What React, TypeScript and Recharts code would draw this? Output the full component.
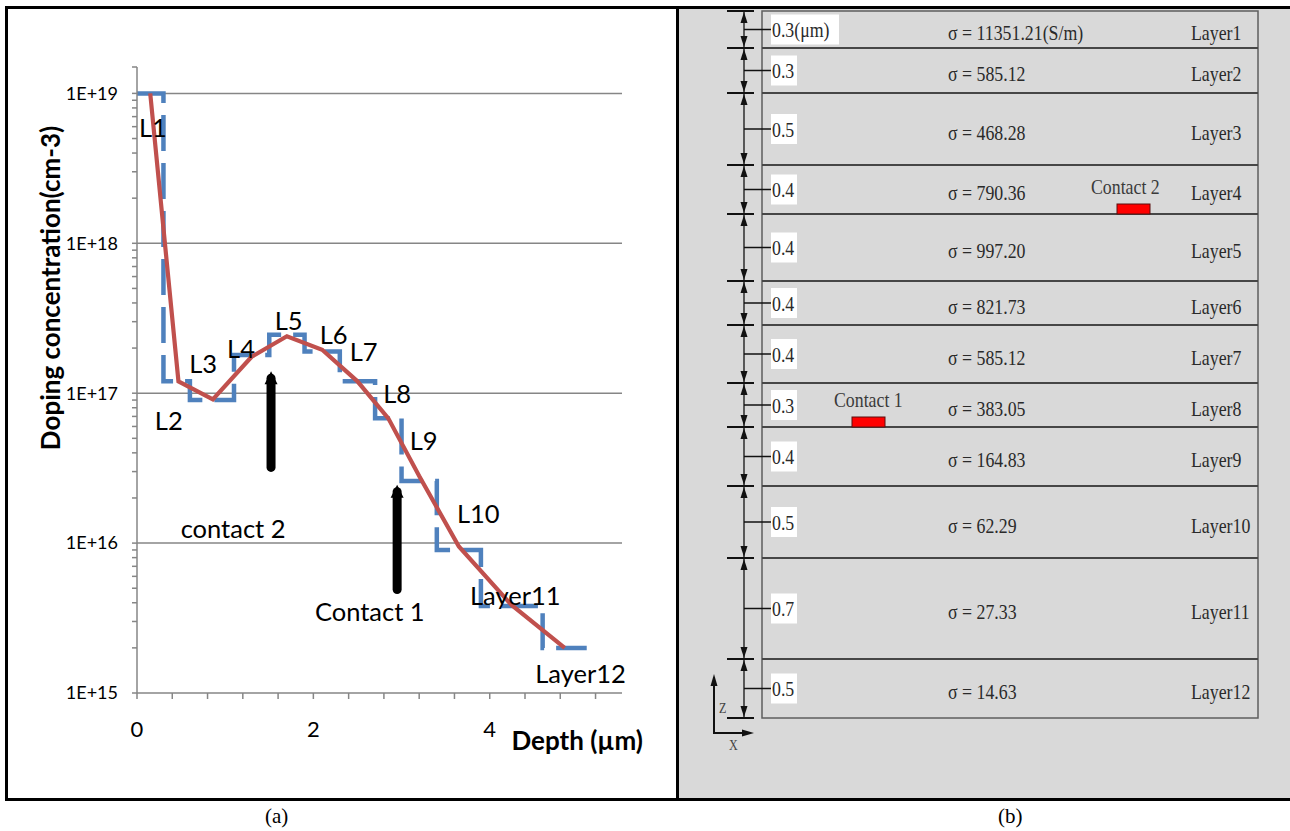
import React from "react";
import { LineChart, Line, XAxis, YAxis, ReferenceLine, ReferenceDot, Label } from "recharts";

// structure layers (panel b) and the stepped doping they stand for (panel a)
const layerNames = ["Layer1", "Layer2", "Layer3", "Layer4", "Layer5", "Layer6", "Layer7", "Layer8", "Layer9", "Layer10", "Layer11", "Layer12"];
const layerThickness = [0.3, 0.3, 0.5, 0.4, 0.4, 0.4, 0.4, 0.3, 0.4, 0.5, 0.7, 0.5];
const layerSigma = ["11351.21", "585.12", "468.28", "790.36", "997.20", "821.73", "585.12", "383.05", "164.83", "62.29", "27.33", "14.63"];
const layerDoping = [1e19, 1.2e17, 9e16, 1.8e17, 2.45e17, 1.9e17, 1.2e17, 6.8e16, 2.6e16, 9e15, 3.8e15, 2e15];

// measured profile (red)
const profileDepth = [0.15, 0.47, 0.86, 1.3, 1.7, 2.1, 2.5, 2.85, 3.2, 3.65, 4.25, 4.85];
const profileDoping = [1e19, 1.2e17, 9.1e16, 1.75e17, 2.4e17, 1.95e17, 1.2e17, 6.8e16, 2.8e16, 9.5e15, 3.85e15, 2e15];

// text on the plot
const noteText = ["L1", "L2", "L3", "L4", "L5", "L6", "L7", "L8", "L9", "L10", "Layer11", "Layer12", "contact 2", "Contact 1"];
const noteDepth = [0.18, 0.36, 0.75, 1.18, 1.72, 2.23, 2.57, 2.95, 3.25, 3.87, 4.29, 5.03, 1.09, 2.64];
const noteDoping = [6e18, 6.6e16, 1.6e17, 2e17, 3.1e17, 2.5e17, 1.9e17, 1e17, 4.9e16, 1.6e16, 4.5e15, 1.36e15, 1.26e16, 3.5e15];

// contact arrows
const contactDepth = [1.52, 2.95];
const contactFrom = [3.2e16, 4.9e15];
const contactTo = [1.26e17, 2.2e16];

// axes
const depthTicks = [0, 0.4, 0.8, 1.2, 1.6, 2, 2.4, 2.8, 3.2, 3.6, 4, 4.4, 4.8, 5.2];
const depthLabels = [0, 2, 4];
const decades = [1e15, 1e16, 1e17, 1e18, 1e19];
const mantissas = [1, 2, 3, 4, 5, 6, 7, 8, 9];

// panel (b) row heights in px, and contacts
const layerRowPx = [37, 45, 72, 49, 67, 44, 58, 44, 59, 72, 101, 59];
const contactNames = ["Contact 1", "Contact 2"];
const contactLayer = [7, 3];

const dopingTicks = [
  ...decades.slice(0, 4).flatMap((d) => mantissas.map((m) => m * d)),
  1e19,
  1.5e19,
];

const stepData: { x: number; y: number }[] = [];
{
  let start = 0;
  layerThickness.forEach((t, i) => {
    stepData.push({ x: start, y: layerDoping[i] });
    start = Math.round((start + t) * 10) / 10;
  });
  stepData.push({ x: start, y: layerDoping[layerDoping.length - 1] });
}
const profileData = profileDepth.map((x, i) => ({ x, y: profileDoping[i] }));

const CHART_FONT = "Lato, 'Noto Sans', sans-serif";
const SERIF = "'Liberation Serif', serif";
const AXIS_GRAY = "#868686";

const ArrowHead = (p: any) => {
  if (p.index !== 1) return <g key={`ah-${p.index}`} />;
  const { cx, cy } = p;
  return <path key={`ah-${p.index}`} d={`M${cx - 6.5},${cy + 6} L${cx},${cy - 7} L${cx + 6.5},${cy + 6} Z`} fill="#000" />;
};

const DepthTitle = (props: any) => {
  const vb = props.viewBox || { x: 137, y: 693, width: 485 };
  return (
    <text x={vb.x + vb.width + 21} y={vb.y + 57} textAnchor="end" fontFamily={CHART_FONT} fontWeight="bold" fontSize={26} fill="#000">
      Depth (µm)
    </text>
  );
};

const DopingTitle = (props: any) => {
  const vb = props.viewBox || { x: 60, y: 67 };
  const cx = vb.x - 10;
  const cy = vb.y + 221;
  return (
    <text x={cx} y={cy} transform={`rotate(-90 ${cx} ${cy})`} textAnchor="middle" dominantBaseline="central" fontFamily={CHART_FONT} fontWeight="bold" fontSize={26} fill="#000">
      Doping concentration(cm-3)
    </text>
  );
};

function DopingChart() {
  return (
    <LineChart width={678} height={800} margin={{ top: 67, right: 56, bottom: 47, left: 60 }}>
      <XAxis
        type="number"
        dataKey="x"
        domain={[0, 5.5]}
        ticks={depthTicks}
        interval={0}
        allowDataOverflow
        tickFormatter={(v) => (depthLabels.includes(Number(v)) ? String(v) : "")}
        stroke={AXIS_GRAY}
        strokeWidth={1.5}
        tickSize={6}
        tickMargin={22}
        height={60}
        tick={{ fill: "#000", fontSize: 22, fontFamily: CHART_FONT }}
      >
        <Label content={DepthTitle} />
      </XAxis>
      <YAxis
        type="number"
        scale="log"
        domain={[1e15, 1.5e19]}
        ticks={dopingTicks}
        interval={0}
        allowDataOverflow
        tickFormatter={(v) => (decades.includes(Number(v)) ? `1E+${Math.round(Math.log10(Number(v)))}` : "")}
        stroke={AXIS_GRAY}
        strokeWidth={1.5}
        tickSize={5}
        tickMargin={14}
        width={77}
        tick={{ fill: "#000", fontSize: 18, fontFamily: CHART_FONT }}
      >
        <Label content={DopingTitle} />
      </YAxis>
      {decades.slice(1).map((d) => (
        <ReferenceLine key={d} y={d} stroke={AXIS_GRAY} strokeWidth={1.5} />
      ))}
      <Line data={stepData} dataKey="y" type="stepAfter" stroke="#4f81bd" strokeWidth={4.5} strokeDasharray="36 12" dot={false} activeDot={false} isAnimationActive={false} />
      <Line data={profileData} dataKey="y" type="linear" stroke="#c0504d" strokeWidth={4.2} dot={false} activeDot={false} isAnimationActive={false} />
      {contactDepth.map((d, i) => (
        <Line
          key={`arrow-${i}`}
          data={[{ x: d, y: contactFrom[i] }, { x: d, y: contactTo[i] }]}
          dataKey="y"
          type="linear"
          stroke="#000"
          strokeWidth={9}
          strokeLinecap="round"
          dot={ArrowHead}
          activeDot={false}
          isAnimationActive={false}
        />
      ))}
      {noteText.map((t, i) => (
        <ReferenceDot
          key={t}
          x={noteDepth[i]}
          y={noteDoping[i]}
          r={0}
          ifOverflow="visible"
          shape={(p: any) => (
            <text x={p.cx} y={p.cy} textAnchor="middle" dominantBaseline="central" fontFamily={CHART_FONT} fontSize={25.5} fill="#000">
              {t}
            </text>
          )}
        />
      ))}
    </LineChart>
  );
}

function SerifText({ x, y, children, size = 22, fill = "#2a2a2a" }: { x: number; y: number; children: React.ReactNode; size?: number; fill?: string }) {
  return (
    <text transform={`translate(${x} ${y}) scale(0.81 1)`} fontFamily={SERIF} fontSize={size} fill={fill} dominantBaseline="central">
      {children}
    </text>
  );
}

function LayerDiagram() {
  const boxL = 762;
  const boxR = 1258;
  const dimX = 744;
  const tops: number[] = [];
  let acc = 11;
  layerRowPx.forEach((h) => {
    tops.push(acc);
    acc += h;
  });
  const bottom = acc;
  const edges = [...tops, bottom];
  const contactX = [852, 1117];
  const contactTextX = [834, 1091];

  return (
    <svg width={1290} height={831} style={{ position: "absolute", left: 0, top: 0 }}>
      <rect x={boxL} y={tops[0]} width={boxR - boxL} height={bottom - tops[0]} fill="none" stroke="#5e5e5e" strokeWidth={1.5} />
      {tops.slice(1).map((y) => (
        <line key={y} x1={boxL} x2={boxR} y1={y} y2={y} stroke="#474747" strokeWidth={2} />
      ))}
      <line x1={dimX} x2={dimX} y1={edges[0]} y2={bottom} stroke="#111" strokeWidth={1.3} />
      {edges.map((y) => (
        <line key={`bar-${y}`} x1={727} x2={754} y1={y} y2={y} stroke="#111" strokeWidth={2} />
      ))}
      {layerThickness.map((t, i) => {
        const top = edges[i];
        const bot = edges[i + 1];
        const mid = (top + bot) / 2;
        const label = i === 0 ? `${t}(μm)` : String(t);
        return (
          <g key={layerNames[i]}>
            <path d={`M${dimX},${top + 1} L${dimX - 3.5},${top + 12} L${dimX + 3.5},${top + 12} Z`} fill="#111" />
            <path d={`M${dimX},${bot - 1} L${dimX - 3.5},${bot - 12} L${dimX + 3.5},${bot - 12} Z`} fill="#111" />
            <line x1={dimX} x2={771} y1={mid} y2={mid} stroke="#111" strokeWidth={1.5} />
            <rect x={771} y={mid - 15} width={i === 0 ? 68 : 26} height={30} fill="#fff" />
            <SerifText x={772} y={mid}>{label}</SerifText>
            <SerifText x={948} y={mid + 3}>σ = {layerSigma[i]}{i === 0 ? "(S/m)" : ""}</SerifText>
            <SerifText x={1191} y={mid + 3}>{layerNames[i]}</SerifText>
          </g>
        );
      })}
      {contactNames.map((c, i) => {
        const y = edges[contactLayer[i] + 1];
        return (
          <g key={c}>
            <SerifText x={contactTextX[i]} y={y - 28} fill="#3a3a3a">{c}</SerifText>
            <rect x={contactX[i]} y={y - 10} width={33} height={10} fill="#ff0000" stroke="#5a1010" strokeWidth={1} />
          </g>
        );
      })}
      <line x1={714} x2={714} y1={682} y2={733} stroke="#111" strokeWidth={2} />
      <path d="M714,674 L710.5,686 L717.5,686 Z" fill="#111" />
      <line x1={713} x2={745} y1={733} y2={733} stroke="#111" strokeWidth={2} />
      <path d="M754,733 L742,729.5 L742,736.5 Z" fill="#111" />
      <SerifText x={719} y={708} size={15} fill="#444">Z</SerifText>
      <SerifText x={729} y={745} size={15} fill="#444">X</SerifText>
    </svg>
  );
}

export default function App() {
  return (
    <div style={{ position: "relative", width: 1290, height: 831, background: "#fff", overflow: "hidden" }}>
      <style>{"body{margin:0}"}</style>
      <div style={{ position: "absolute", left: 679, top: 9, width: 611, height: 789, background: "#d9d9d9" }} />
      <div style={{ position: "absolute", left: 0, top: 0 }}>
        <DopingChart />
      </div>
      <LayerDiagram />
      <div style={{ position: "absolute", left: 5, top: 6, width: 1285, height: 3, background: "#000" }} />
      <div style={{ position: "absolute", left: 5, top: 798, width: 1285, height: 3, background: "#000" }} />
      <div style={{ position: "absolute", left: 5, top: 6, width: 3, height: 795, background: "#000" }} />
      <div style={{ position: "absolute", left: 676, top: 6, width: 3, height: 795, background: "#000" }} />
      <div style={{ position: "absolute", left: 265, top: 804, fontFamily: SERIF, fontSize: 21, color: "#000" }}>(a)</div>
      <div style={{ position: "absolute", left: 998, top: 804, fontFamily: SERIF, fontSize: 21, color: "#000" }}>(b)</div>
    </div>
  );
}
